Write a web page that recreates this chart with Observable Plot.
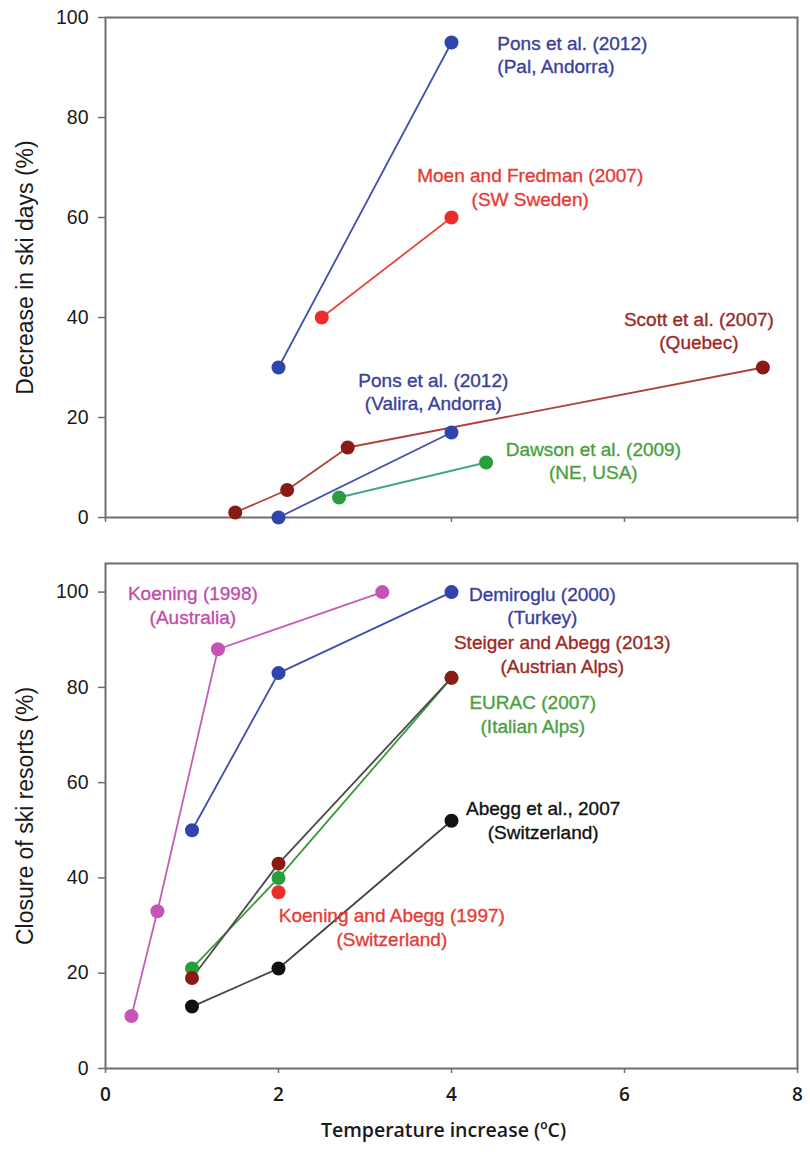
<!DOCTYPE html>
<html>
<head>
<meta charset="utf-8">
<script src="https://cdn.jsdelivr.net/npm/d3@7"></script>
<script src="https://cdn.jsdelivr.net/npm/@observablehq/plot@0.6"></script>
<style>
  html, body { margin: 0; padding: 0; background: #fff; }
  #chart svg { display: block; }
</style>
</head>
<body>
<div id="chart"></div>
<script>
// ---------- DATA ----------
const xTicks = [0, 2, 4, 6, 8];
const yTicks = [0, 20, 40, 60, 80, 100];

// Top panel: decrease in ski days (%)
const topSeries = ["PonsPal","PonsPal","Moen","Moen","Scott","Scott","Scott","Scott","PonsValira","PonsValira","Dawson","Dawson"];
const topX      = [2, 4,        2.5, 4,   1.5, 2.1, 2.8, 7.6,     2, 4,     2.7, 4.4];
const topY      = [30, 95,      40, 60,   1, 5.5, 14, 30,         0, 17,    4, 11];

// Bottom panel: closure of ski resorts (%)
const botSeries = ["Koening1998","Koening1998","Koening1998","Koening1998",
                   "Demiroglu","Demiroglu","Demiroglu",
                   "EURAC","EURAC","EURAC",
                   "Steiger","Steiger","Steiger",
                   "Abegg","Abegg","Abegg",
                   "KoeningAbegg"];
const botX = [0.3, 0.6, 1.3, 3.2,  1, 2, 4,  1, 2, 4,  1, 2, 4,  1, 2, 4,  2];
const botY = [11, 33, 88, 100,     50, 83, 100,  21, 40, 82,  19, 43, 82,  13, 21, 52,  37];

// Labels (text, series, position in data units)
const topLabelText   = ["Pons et al. (2012)\n(Pal, Andorra)", "Moen and Fredman (2007)\n(SW Sweden)", "Scott et al. (2007)\n(Quebec)", "Pons et al. (2012)\n(Valira, Andorra)", "Dawson et al. (2009)\n(NE, USA)"];
const topLabelSeries = ["PonsPal", "Moen", "Scott", "PonsValira", "Dawson"];
const topLabelX      = [4.53, 4.91, 6.86, 3.79, 5.64];
const topLabelY      = [92.7, 66.2, 37.5, 25.3, 11.5];

const botLabelText   = ["Koening (1998)\n(Australia)", "Demiroglu (2000)\n(Turkey)", "Steiger and Abegg (2013)\n(Austrian Alps)", "EURAC (2007)\n(Italian Alps)", "Abegg et al., 2007\n(Switzerland)", "Koening and Abegg (1997)\n(Switzerland)"];
const botLabelSeries = ["Koening1998", "Demiroglu", "Steiger", "EURAC", "Abegg", "KoeningAbegg"];
const botLabelX      = [1.01, 5.05, 5.28, 4.94, 5.06, 3.31];
const botLabelY      = [97.4, 97.3, 87.1, 74.5, 52.3, 29.8];

// ---------- STYLES ----------
const lineColor = {
  PonsPal: "#4350b0", Moen: "#e8473f", Scott: "#b0403a", PonsValira: "#4350b0", Dawson: "#3fa58e",
  Koening1998: "#c65cb8", Demiroglu: "#3f4db0", EURAC: "#3a9a3a", Steiger: "#4a4a4a", Abegg: "#444444", KoeningAbegg: "#e83030"
};
const dotColor = {
  PonsPal: "#2f45ad", Moen: "#ee2b2b", Scott: "#8a1a14", PonsValira: "#2f45ad", Dawson: "#2a9e3c",
  Koening1998: "#c654b6", Demiroglu: "#2f45ad", EURAC: "#2a9e3c", Steiger: "#8a1a14", Abegg: "#111111", KoeningAbegg: "#ee2b2b"
};
const textColor = {
  PonsPal: "#3a3f9c", Moen: "#e63a35", Scott: "#9a2a26", PonsValira: "#3a3f9c", Dawson: "#4aa040",
  Koening1998: "#c04ea8", Demiroglu: "#3a3f9c", EURAC: "#4aa040", Steiger: "#9a2a26", Abegg: "#111111", KoeningAbegg: "#e63a35"
};

const topRows = topSeries.map((s, i) => ({s, x: topX[i], y: topY[i]}));
const botRows = botSeries.map((s, i) => ({s, x: botX[i], y: botY[i]}));
const topLabels = topLabelText.map((t, i) => ({t, s: topLabelSeries[i], x: topLabelX[i], y: topLabelY[i]}));
const botLabels = botLabelText.map((t, i) => ({t, s: botLabelSeries[i], x: botLabelX[i], y: botLabelY[i]}));

const FONT = "'Liberation Sans', Arial, Helvetica, sans-serif";
const frameStroke = "#6e6e6e";

function panel({rows, labels, height, marginTop, marginBottom, yDomain, yLabel, showXLabels, startAnchorSeries}) {
  const lab = {x: "x", y: "y", text: "t", fill: d => textColor[d.s], stroke: d => textColor[d.s], strokeWidth: 0.35, fontSize: 19, lineAnchor: "middle", lineHeight: 1.25};
  const marks = [
    Plot.frame({stroke: frameStroke, strokeWidth: 2}),
    Plot.axisY({ticks: yTicks, tickSize: 7, tickPadding: 10, fontSize: 19.5, stroke: frameStroke, strokeWidth: 1.5, fill: "#1a1a1a", label: null}),
    Plot.text([yLabel], {frameAnchor: "left", rotate: -90, dx: -80, fontSize: 23, fill: "#1a1a1a", textAnchor: "middle", lineAnchor: "middle"}),
    showXLabels
      ? Plot.axisX({ticks: xTicks, tickSize: 5, tickPadding: 14, fontSize: 19, fontFamily: "'Open Sans', sans-serif", fontWeight: 600, stroke: frameStroke, strokeWidth: 1.5, fill: "#1a1a1a", label: null})
      : Plot.axisX({ticks: xTicks, tickSize: 5, tickFormat: () => "", stroke: frameStroke, strokeWidth: 1.5, label: null}),
    Plot.line(rows, {x: "x", y: "y", z: "s", stroke: d => lineColor[d.s], strokeWidth: 1.8}),
    Plot.dot(rows, {x: "x", y: "y", r: 7, fill: d => dotColor[d.s], stroke: null}),
    Plot.text(labels.filter(d => d.s === startAnchorSeries), {...lab, textAnchor: "start"}),
    Plot.text(labels.filter(d => d.s !== startAnchorSeries), {...lab, textAnchor: "middle"})
  ];
  if (showXLabels) {
    marks.push(Plot.text(["Temperature increase (ºC)"], {frameAnchor: "bottom", dy: 62, dx: -8, fontSize: 19.5, fontFamily: "'Open Sans', sans-serif", fontWeight: 600, fill: "#1a1a1a", lineAnchor: "middle"}));
  }
  return Plot.plot({
    width: 810,
    height,
    marginLeft: 105,
    marginRight: 13,
    marginTop,
    marginBottom,
    x: {domain: [0, 8]},
    y: {domain: yDomain},
    color: {type: "identity"},
    style: {fontFamily: FONT, background: "#fff", color: "#1a1a1a", overflow: "visible"},
    marks
  });
}

const chart = document.getElementById("chart");
chart.appendChild(panel({
  rows: topRows, labels: topLabels, height: 540, marginTop: 17, marginBottom: 23,
  yDomain: [0, 100], yLabel: "Decrease in ski days (%)", showXLabels: false, startAnchorSeries: "PonsPal"
}));
chart.appendChild(panel({
  rows: botRows, labels: botLabels, height: 612, marginTop: 23, marginBottom: 84,
  yDomain: [0, 106], yLabel: "Closure of ski resorts (%)", showXLabels: true, startAnchorSeries: null
}));
</script>
</body>
</html>
